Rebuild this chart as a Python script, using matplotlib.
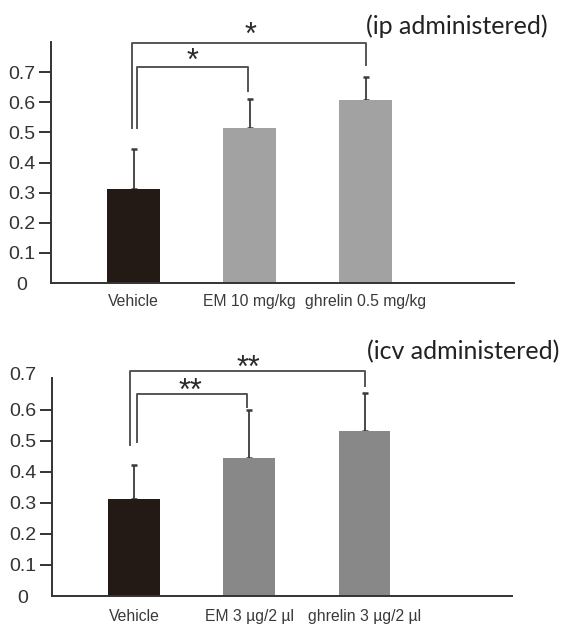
import matplotlib
matplotlib.use("Agg")
import matplotlib.pyplot as plt

# ---- data ----
categories_ip = ["Vehicle", "EM 10 mg/kg", "ghrelin 0.5 mg/kg"]
means_ip = [0.313, 0.515, 0.608]
err_ip = [0.133, 0.095, 0.075]

categories_icv = ["Vehicle", "EM 3 \u00b5g/2 \u00b5l", "ghrelin 3 \u00b5g/2 \u00b5l"]
means_icv = [0.313, 0.445, 0.532]
err_icv = [0.110, 0.155, 0.123]

yticks_ip = [0.1, 0.2, 0.3, 0.4, 0.5, 0.6, 0.7]
yticks_icv = [0.1, 0.2, 0.3, 0.4, 0.5, 0.6]

# brackets: (x_left, x_right, y_top, y_left_bottom, y_right_bottom, label, label_x, label_baseline_y)
brackets_ip = [(-0.017, 2.0, 0.796, 0.514, 0.723, "*", 1.01, 0.795),
               (0.026, 0.99, 0.716, 0.514, 0.636, "*", 0.51, 0.706)]
brackets_icv = [(-0.035, 2.0, 0.726, 0.487, 0.677, "**", 0.99, 0.707),
                (0.026, 0.98, 0.652, 0.497, 0.610, "**", 0.486, 0.633)]

colors_ip = ["#231a15", "#a2a2a2", "#a2a2a2"]
colors_icv = ["#231a15", "#888888", "#888888"]

W, H = 564, 625
fig = plt.figure(figsize=(W / 100, H / 100), dpi=100)

def px_axes(l, r, t, b):
    return fig.add_axes([l / W, 1 - b / H, (r - l) / W, (b - t) / H])

ax1 = px_axes(51, 514, 42, 283)
ax2 = px_axes(52, 512, 378, 596)

TICKFONT = dict(fontfamily="Liberation Sans", fontsize=14, color="#333333")

def draw(ax, cats, means, errs, colors, yticks, ylim, brackets, width, xpad):
    x = list(range(len(cats)))
    ax.bar(x, means, width=width, color=colors, zorder=2)
    ax.errorbar(x, means, yerr=[[0] * len(errs), errs], fmt="none",
                ecolor="#3a3a3a", elinewidth=1.3, capsize=1.9, capthick=1.8, zorder=1)
    ax.set_xlim(-0.712, 3.28)
    ax.set_ylim(*ylim)
    for s in ("top", "right"):
        ax.spines[s].set_visible(False)
    for s in ("left", "bottom"):
        ax.spines[s].set_linewidth(1.4)
        ax.spines[s].set_color("#333333")
    ax.set_yticks(yticks)
    ax.set_yticklabels([f"{v:.1f}" for v in yticks], **TICKFONT)
    ax.tick_params(axis="y", direction="out", length=9, width=1.4, color="#333333", pad=2)
    ax.set_xticks(x)
    ax.set_xticklabels(cats, fontfamily="Liberation Sans", fontsize=11.3, color="#3a3a3a")
    ax.tick_params(axis="x", length=0, pad=xpad)
    # "0" label (no tick)
    ax.text(-0.063, -0.008, "0", transform=ax.get_yaxis_transform(), ha="center", va="center",
            **TICKFONT)
    for (xl, xr, yt, ylb, yrb, lab, lx, ly) in brackets:
        ax.plot([xl, xl, xr, xr], [ylb, yt, yt, yrb], color="#555555", lw=1.4,
                clip_on=False, zorder=3)
        ax.text(lx, ly, lab, ha="center", va="baseline", fontsize=22,
                fontfamily="Liberation Sans", color="#2a2a2a", clip_on=False)

draw(ax1, categories_ip, means_ip, err_ip, colors_ip, yticks_ip, (0, 0.8), brackets_ip, 0.455, 8)
draw(ax2, categories_icv, means_icv, err_icv, colors_icv, yticks_icv, (0, 0.703), brackets_icv, 0.45, 9.5)
# "0.7" label at top of lower axis (no tick)
ax2.text(-0.035, 0.71, "0.7", transform=ax2.get_yaxis_transform(), ha="right", va="center",
         **TICKFONT)

fig.text(457 / W, 1 - 26 / H, "(ip administered)", ha="center", va="center",
         fontfamily="Lato", fontsize=18, color="#222222")
fig.text(463 / W, 1 - 352 / H, "(icv administered)", ha="center", va="center",
         fontfamily="Lato", fontsize=18, color="#222222")

fig.savefig("out.png", dpi=100)
